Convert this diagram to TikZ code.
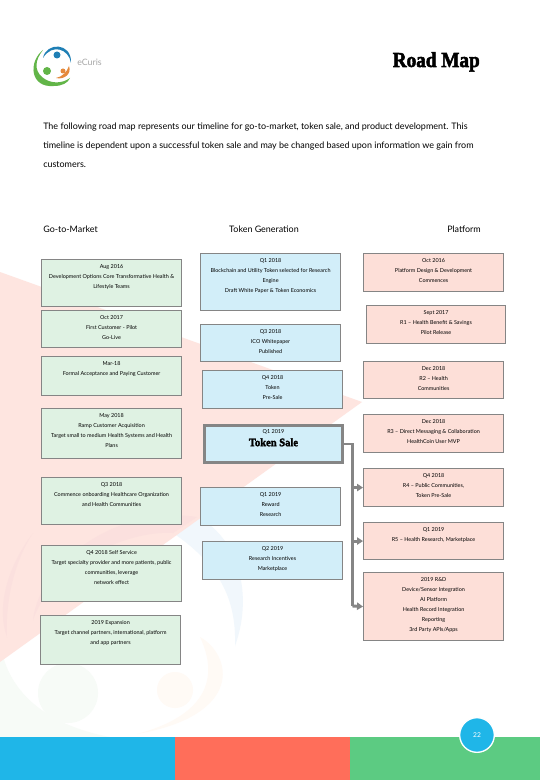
\documentclass[tikz,border=0pt]{standalone}
\usepackage{fontspec}
\setmainfont{Lato}
\newfontfamily\titlefont[BoldFeatures={FakeBold=2.6}]{Liberation Serif}
\usetikzlibrary{arrows.meta}
\newcommand{\px}{0.75pt}
\definecolor{boxline}{HTML}{858585}
\definecolor{boxgreen}{HTML}{DFF2E3}
\definecolor{boxblue}{HTML}{D2EEF9}
\definecolor{boxpink}{HTML}{FDDFD8}
\definecolor{wmpink}{HTML}{FEE5E0}
\definecolor{wmpinkb}{HTML}{FBE0DE}
\definecolor{wmblue}{HTML}{F1F7FC}
\definecolor{wmgreen}{HTML}{F7FBF7}
\definecolor{wmorange}{HTML}{FFFAF5}
\definecolor{barblue}{HTML}{1FB6E8}
\definecolor{barred}{HTML}{FF6E5A}
\definecolor{bargreen}{HTML}{5CCB82}
\definecolor{logoblue}{HTML}{1F7FB5}
\definecolor{logogreen}{HTML}{62B548}
\definecolor{logoorange}{HTML}{E58A3C}
\tikzset{
  x=0.75pt,y=-0.75pt,
  boxbase/.style={draw=boxline,line width=0.85pt,inner sep=0pt,anchor=north west},
  greenbox/.style={boxbase,fill=boxgreen},
  bluebox/.style={boxbase,fill=boxblue},
  pinkbox/.style={boxbase,fill=boxpink},
  boxtext/.style={inner sep=0pt,anchor=north,align=center,font=\fontsize{4.08}{7.5}\selectfont},
  trunk/.style={draw=boxline,line width=2.2pt},
  branch/.style={draw=boxline,line width=2.2pt,-{Triangle[length=4.5pt,width=5.5pt]}},
  head/.style={inner sep=0pt,font=\fontsize{6.7}{9}\selectfont,anchor=base},
  bodytext/.style={inner sep=0pt,font=\fontsize{6.72}{9}\selectfont,anchor=base west},
}
\newcommand{\gbox}[6]{\node[#1,minimum width=#4*\px,minimum height=#5*\px] (#2) at #3 {};
  \node[boxtext] (#2t) at ([yshift=-4.2pt]#2.north) {#6};}
\begin{document}
\begin{tikzpicture}
\useasboundingbox (0,0) rectangle (540,780);
\fill[white] (0,0) rectangle (540,780);
% watermark
\fill[wmblue] (197,517) .. controls (235,535) and (255,590) .. (235,646) .. controls (236,610) and (228,570) .. (173,533) -- cycle;
\fill[wmgreen] (0,640) .. controls (5,690) and (45,725) .. (110,737) -- (0,737) -- cycle;
\fill[wmorange] (200,637) .. controls (232,655) and (245,715) .. (137,734) .. controls (190,720) and (225,690) .. (200,637) -- cycle;
\fill[wmpink] (0,272) -- (362,402) -- (0,662) -- cycle;
\fill[wmpinkb] (197,517) .. controls (120,505) and (40,560) .. (33,620) .. controls (50,570) and (120,530) .. (173,533) -- cycle;
\fill[wmpinkb] (33,533) .. controls (5,570) and (-3,610) .. (7,637) .. controls (5,600) and (15,560) .. (33,533) -- cycle;
\fill[wmgreen] (68,693) circle (30);
\fill[wmorange] (175,690) circle (18);
% footer
\fill[barblue] (0,737) rectangle (175,780);
\fill[barred] (175,737) rectangle (350,780);
\fill[bargreen] (350,737) rectangle (540,780);
\node[circle,fill=barblue,draw=white,line width=1pt,minimum size=26pt,inner sep=0pt,text=white,font=\fontsize{5}{6}\selectfont] (pageno) at (477,735) {22};
% logo
\fill[logogreen] (43,50) .. controls (28,62) and (30,88) .. (54,86) .. controls (62,86) and (68,83) .. (70,78) .. controls (62,84) and (50,84) .. (42,77) .. controls (34,70) and (35,60) .. (43,50) -- cycle;
\fill[logoblue] (43,58) .. controls (46,42) and (72,42) .. (71,63) .. controls (69,49) and (52,43) .. (43,58) -- cycle;
\fill[logoorange] (69,66) .. controls (72,74) and (64,80) .. (56,78) .. controls (62,77) and (67,72) .. (69,66) -- cycle;
\fill[logoblue] (57,55) circle (3.5);
\fill[logogreen] (47,71) circle (4);
\fill[logoorange] (63,71) circle (2.5);
\node[inner sep=0pt,font=\fontsize{6.6}{8}\selectfont,text=gray!70,anchor=base west] (brand) at (77,65.5) {eCuris};
% title
\node[inner sep=0pt,font=\titlefont\bfseries\fontsize{16}{20}\selectfont,anchor=base east] (title) at (480,67) {\scalebox{0.9}[1]{Road Map}};
% intro
\node[bodytext] (l1) at (43,130) {The following road map represents our timeline for go-to-market, token sale, and product development. This};
\node[bodytext] (l2) at (43,149) {timeline is dependent upon a successful token sale and may be changed based upon information we gain from};
\node[bodytext] (l3) at (43,168) {customers.};
\node[head,anchor=base west] (h1) at (43,233) {Go-to-Market};
\node[head] (h2) at (264,233) {Token Generation};
\node[head,anchor=base east] (h3) at (481,233) {Platform};
% left
\gbox{greenbox}{g1}{(41,259)}{140}{47}{Aug 2016\\Development Options Core Transformative Health \&\\Lifestyle Teams}
\gbox{greenbox}{g2}{(41,310)}{140}{37}{Oct 2017\\First Customer - Pilot\\Go-Live}
\gbox{greenbox}{g3}{(41,356)}{140}{39}{Mar-18\\Formal Acceptance and Paying Customer}
\gbox{greenbox}{g4}{(41,408)}{140}{50}{May 2018\\Ramp Customer Acquisition\\Target small to medium Health Systems and Health\\Plans}
\gbox{greenbox}{g5}{(41,477)}{140}{47}{Q3 2018\\Commence onboarding Healthcare Organization\\and Health Communities}
\gbox{greenbox}{g6}{(41,545)}{140}{56}{Q4 2018 Self Service\\Target specialty provider and more patients, public\\communities, leverage\\network effect}
\gbox{greenbox}{g7}{(40,615)}{140}{49}{2019 Expansion\\Target channel partners, international, platform\\and app partners}
% middle
\gbox{bluebox}{b1}{(200,253)}{140}{57}{Q1 2018\\Blockchain and Utility Token selected for Research\\Engine\\Draft White Paper \& Token Economics}
\gbox{bluebox}{b2}{(200,324)}{140}{37}{Q3 2018\\ICO Whitepaper\\Published}
\gbox{bluebox}{b3}{(202,370)}{140}{38}{Q4 2018\\Token\\Pre-Sale}
\node[bluebox,line width=2.2pt,minimum width=138*\px,minimum height=37*\px] (sale) at (203,424) {};
\node[boxtext] (salet) at ([yshift=-3.8pt]sale.north) {Q1 2019\\[2.2pt]{\titlefont\bfseries\fontsize{8.6}{10}\selectfont\scalebox{0.92}[1]{Token Sale}}};
\gbox{bluebox}{b5}{(200,487)}{140}{38}{Q1 2019\\Reward\\Research}
\gbox{bluebox}{b6}{(202,541)}{140}{38}{Q2 2019\\Research Incentives\\Marketplace}
% right
\gbox{pinkbox}{p1}{(363,253)}{140}{38}{Oct 2016\\Platform Design \& Development\\Commences}
\gbox{pinkbox}{p2}{(366,305)}{139}{38}{Sept 2017\\R1 -- Health Benefit \& Savings\\Pilot Release}
\gbox{pinkbox}{p3}{(363,361)}{140}{37}{Dec 2018\\R2 -- Health\\Communities}
\gbox{pinkbox}{p4}{(363,414)}{140}{38}{Dec 2018\\R3 -- Direct Messaging \& Collaboration\\HealthCoin User MVP}
\gbox{pinkbox}{p5}{(363,468)}{140}{38}{Q4 2018\\R4 -- Public Communities,\\Token Pre-Sale}
\gbox{pinkbox}{p6}{(363,522)}{140}{37}{Q1 2019\\R5 -- Health Research, Marketplace}
\gbox{pinkbox}{p7}{(363,572)}{140}{68}{2019 R\&D\\Device/Sensor Integration\\AI Platform\\Health Record Integration\\Reporting\\3rd Party APIs/Apps}
% connectors
\coordinate (busTop) at (352.5,443);
\coordinate (busBot) at (352.5,606);
\draw[trunk,line join=miter] (sale.east) -- (sale.east -| busTop) -- (busBot);
\draw[branch] (busTop |- p5.west) -- (p5.west);
\draw[branch] (busTop |- p6.west) -- (p6.west);
\draw[branch] (busBot) -- (p7.west);
\end{tikzpicture}
\end{document}
